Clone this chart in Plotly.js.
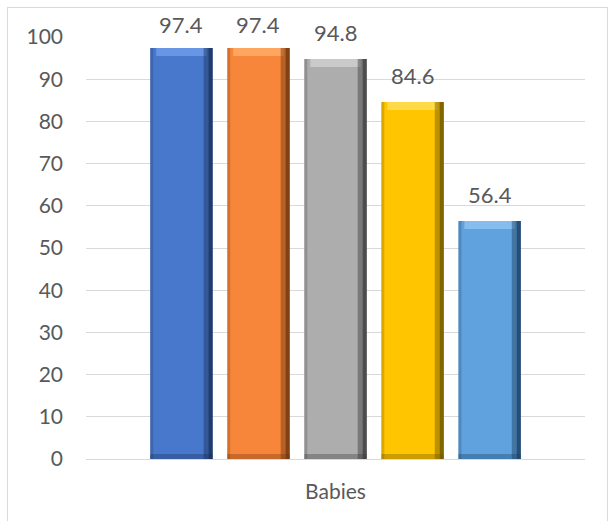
<!DOCTYPE html>
<html>
<head>
<meta charset="utf-8">
<script src="https://cdn.plot.ly/plotly-3.0.1.min.js"></script>
<style>
html,body{margin:0;padding:0;background:#fff;}
#wrap{position:relative;width:610px;height:521px;}
#frame{position:absolute;left:7px;top:7px;width:601px;height:516px;border:1px solid #d9d9d9;box-sizing:border-box;pointer-events:none;}
#chart{position:absolute;left:0;top:0;width:610px;height:521px;}
</style>
</head>
<body>
<div id="wrap"><div id="chart"></div><div id="frame"></div></div>
<script>
const categories = ["Babies"];
const seriesNames = ["Series 1", "Series 2", "Series 3", "Series 4", "Series 5"];
const seriesValues = [97.4, 97.4, 94.8, 84.6, 56.4];
const seriesColors = ["#4878CC", "#F8863A", "#ADADAD", "#FFC600", "#5FA2DE"];
const topColors = ["#6E9BE8", "#FFAA66", "#CFCFCF", "#FFDD55", "#8CC2F2"];
const edgeColors = ["#1A2F57", "#6A3510", "#3A3A3A", "#6A5200", "#1C3D5E"];
const yTicks = [0, 10, 20, 30, 40, 50, 60, 70, 80, 90, 100];

// layout constants (styling only)
const marginTop = 37, plotH = 422;
const groupWidth = 0.772;
const slot = groupWidth / seriesValues.length;
const barW = slot * 0.81;
const unitsPerPx = 100 / plotH;   // y units per pixel
const pxPerX = 499;               // pixels per category unit
const labelGap = 19;              // px between bar top and label baseline
const labelMaxBaseline = 32;      // labels kept inside chart area
const labelDescent = 8;

const traces = [];
const annotations = [];
seriesValues.forEach((v, i) => {
  const c = (i - (seriesValues.length - 1) / 2) * slot;
  const left = c - barW / 2;
  traces.push({
    type: "bar", name: seriesNames[i], x: categories, y: [v],
    offset: left, width: barW,
    marker: {color: seriesColors[i], line: {width: 0}},
    hoverinfo: "skip"
  });
  const bev = 8 * unitsPerPx;
  traces.push({
    type: "bar", x: categories, y: [bev], base: [v - bev],
    offset: left + 6 / pxPerX, width: barW - 12 / pxPerX,
    marker: {color: topColors[i], opacity: 0.85, line: {width: 0}},
    hoverinfo: "skip", showlegend: false
  });
  const bb = 5 * unitsPerPx;
  traces.push({
    type: "bar", x: categories, y: [bb], base: [0],
    offset: left, width: barW,
    marker: {color: edgeColors[i], opacity: 0.35, line: {width: 0}},
    hoverinfo: "skip", showlegend: false
  });
  traces.push({
    type: "bar", x: categories, y: [v],
    offset: left, width: 3 / pxPerX,
    marker: {color: edgeColors[i], opacity: 0.25, line: {width: 0}},
    hoverinfo: "skip", showlegend: false
  });
  traces.push({
    type: "bar", x: categories, y: [v],
    offset: left + barW - 9 / pxPerX, width: 9 / pxPerX,
    marker: {color: edgeColors[i], opacity: 0.45, line: {width: 0}},
    hoverinfo: "skip", showlegend: false
  });
  traces.push({
    type: "bar", x: categories, y: [v],
    offset: left + barW - 4 / pxPerX, width: 4 / pxPerX,
    marker: {color: edgeColors[i], opacity: 0.7, line: {width: 0}},
    hoverinfo: "skip", showlegend: false
  });
  // data label
  const barTopPx = marginTop + (100 - v) / unitsPerPx;
  const baseline = Math.max(barTopPx - labelGap, labelMaxBaseline);
  annotations.push({
    x: c, y: v, xref: "x", yref: "y",
    text: v.toFixed(1), showarrow: false,
    xanchor: "center", yanchor: "bottom",
    yshift: barTopPx - baseline - labelDescent,
    font: {family: "Lato, 'Open Sans', sans-serif", size: 22, color: "#595959"}
  });
});

const layout = {
  width: 610, height: 521,
  margin: {l: 86, r: 25, t: marginTop, b: 62},
  paper_bgcolor: "#ffffff",
  plot_bgcolor: "#ffffff",
  showlegend: false,
  barmode: "overlay",
  annotations: annotations,
  font: {family: "Lato, 'Open Sans', sans-serif", color: "#595959", size: 20},
  xaxis: {
    type: "category", range: [-0.5, 0.5],
    showgrid: false, zeroline: false, showline: false,
    ticks: "", ticklabelstandoff: 18,
    tickfont: {size: 21, color: "#595959"}
  },
  yaxis: {
    range: [0, 100],
    tickvals: yTicks,
    ticktext: yTicks.map(String),
    showgrid: true, gridcolor: "#d9d9d9", gridwidth: 1,
    zeroline: true, zerolinecolor: "#d9d9d9", zerolinewidth: 1,
    showline: false, ticks: "", ticklabelstandoff: 22,
    tickfont: {size: 21, color: "#595959"}
  }
};

Plotly.newPlot("chart", traces, layout, {displayModeBar: false, staticPlot: true});
</script>
</body>
</html>
